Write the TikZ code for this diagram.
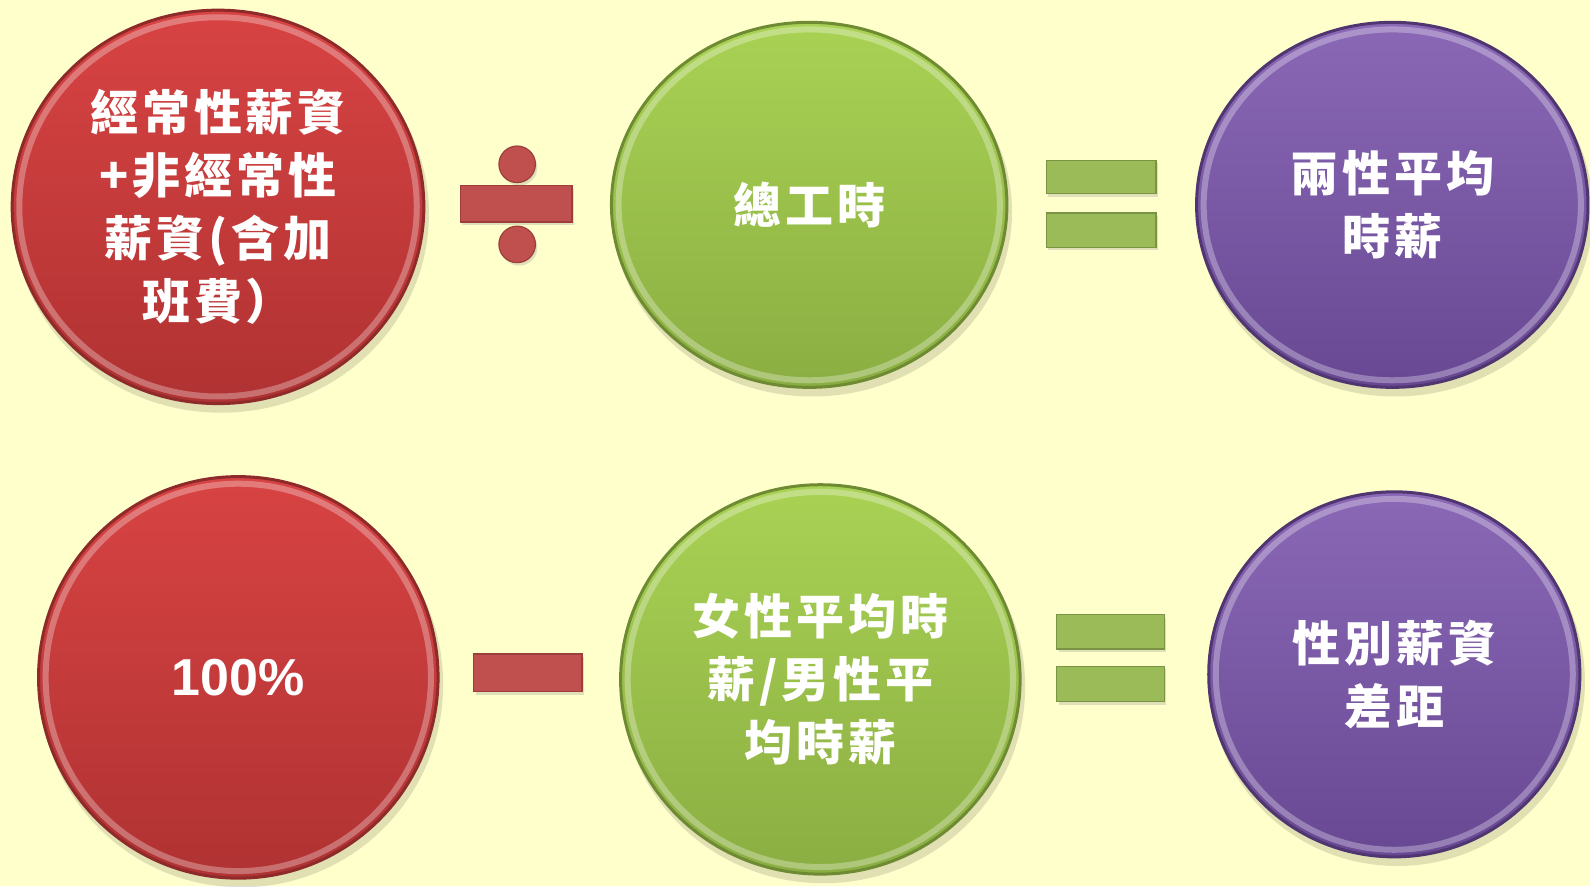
\documentclass[tikz,border=0pt]{standalone}
\usepackage{fontspec}
\setmainfont{Liberation Sans}
\newfontfamily\cjk{Noto Sans CJK TC}[LetterSpace=8]
\usetikzlibrary{shapes.geometric,shadows}
\definecolor{bg}{HTML}{FFFFCC}
\definecolor{redT}{HTML}{D84343}
\definecolor{redB}{HTML}{B03232}
\definecolor{redR}{HTML}{8E2A2A}
\definecolor{grnT}{HTML}{A9D254}
\definecolor{grnB}{HTML}{8BAE42}
\definecolor{grnR}{HTML}{6E8B33}
\definecolor{purT}{HTML}{8A68B6}
\definecolor{purB}{HTML}{684893}
\definecolor{purR}{HTML}{503671}
\definecolor{opR}{HTML}{C0504D}
\definecolor{opRd}{HTML}{9C3E3B}
\definecolor{opG}{HTML}{9BBB59}
\definecolor{opGd}{HTML}{7A9444}
\def\k{1.01403}
\tikzset{
  bubble/.style={ellipse, inner sep=0pt, text=white, align=center,
    font=\cjk\bfseries\fontsize{24}{31.4}\selectfont, line width=1.5pt},
  redb/.style={bubble, top color=redT, bottom color=redB, draw=redR},
  grnb/.style={bubble, top color=grnT, bottom color=grnB, draw=grnR},
  purb/.style={bubble, top color=purT, bottom color=purB, draw=purR},
  ring/.style={line width=3pt, opacity=0.3},
  opshadow/.style={drop shadow={opacity=0.25, shadow xshift=1pt, shadow yshift=-1.5pt}},
  opred/.style={rectangle, inner sep=0pt, fill=opR, draw=opRd, line width=0.6pt, opshadow},
  opdot/.style={circle, inner sep=0pt, fill=opR, draw=opRd, line width=0.6pt, opshadow},
  opgrn/.style={rectangle, inner sep=0pt, fill=opG, draw=opGd, line width=0.6pt, opshadow},
}
\newcommand\bub[7]{%
  \fill[black, opacity=0.12] (#2+3,#3+7) ellipse ({#4+2} and {#5+2});
  \node[#6, minimum width=\k*#4 pt, minimum height=\k*#5 pt] (#1) at (#2,#3) {#7};
  \draw[white, ring] (#1.center) ellipse ({#4-7} and {#5-7});
}
\begin{document}
\begin{tikzpicture}[x=0.50701pt, y=-0.50701pt]
\fill[bg] (0,0) rectangle (1568,874);
\useasboundingbox (0,0) rectangle (1568,874);

\bub{wage}{215}{204}{203}{194}{redb}{經常性薪資\\+非經常性\\薪資(含加\\班費）}
\bub{hours}{798}{202}{195}{180}{grnb}{總工時}
\bub{avg}{1373}{202}{193}{180}{purb}{兩性平均\\時薪}
\bub{hund}{235}{668}{197}{198}{redb, font=\bfseries\fontsize{26}{30}\selectfont}{100\%}
\bub{ratio}{809}{670}{197}{192}{grnb}{女性平均時\\薪/男性平\\均時薪}
\bub{gap}{1375}{665}{183}{180}{purb}{性別薪資\\差距}

% divide sign
\node[opred, minimum width=\k*55pt, minimum height=\k*18pt] (divbar) at (509,201) {};
\node[opdot, minimum size=\k*18pt] (divtop) at (510,162) {};
\node[opdot, minimum size=\k*18pt] (divbot) at (510,241) {};
% equals (top)
\node[opgrn, minimum width=\k*54pt, minimum height=\k*16.5pt] (eqAtop) at (1086,174.5) {};
\node[opgrn, minimum width=\k*54pt, minimum height=\k*17pt] (eqAbot) at (1086,227) {};
% minus
\node[opred, minimum width=\k*53.5pt, minimum height=\k*18.5pt] (minus) at (520.5,663.5) {};
% equals (bottom)
\node[opgrn, minimum width=\k*53pt, minimum height=\k*17pt] (eqBtop) at (1095,623) {};
\node[opgrn, minimum width=\k*53pt, minimum height=\k*17.5pt] (eqBbot) at (1095,674.5) {};
\end{tikzpicture}
\end{document}
